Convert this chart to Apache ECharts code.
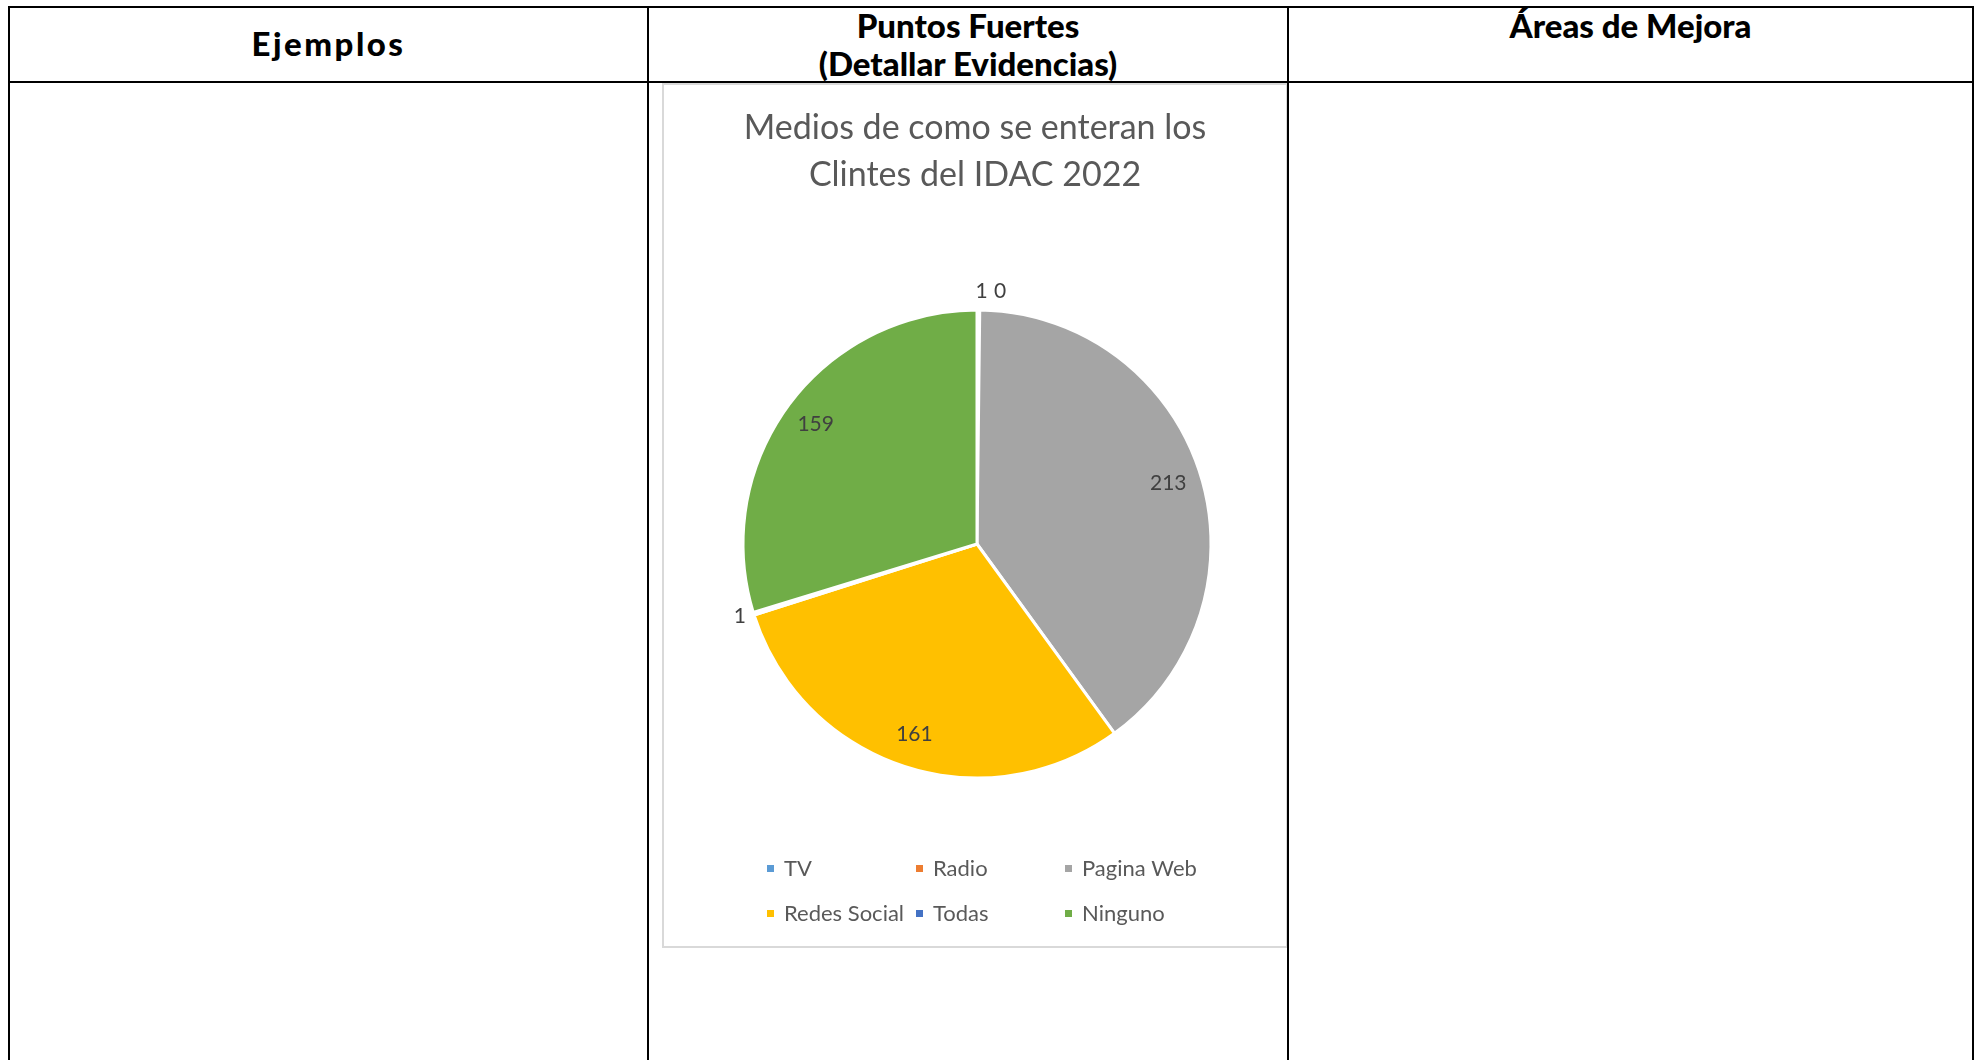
<!DOCTYPE html>
<html>
<head>
<meta charset="utf-8">
<script src="https://cdn.jsdelivr.net/npm/echarts@6/dist/echarts.min.js"></script>
<style>
  html, body { margin: 0; padding: 0; background: #fff; }
  body { width: 1977px; height: 1060px; position: relative; overflow: hidden; font-family: Lato, 'Noto Sans', sans-serif; }
  .ln { position: absolute; background: #000; }
  .head { position: absolute; font-weight: 900; font-size: 33px; color: #000; text-align: center; line-height: 38px; white-space: nowrap; }
  #frame { position: absolute; left: 662px; top: 83px; width: 626px; height: 865px; box-sizing: border-box; border: 2px solid #d9d9d9; background: #fff; }
  #chart { position: absolute; left: 662px; top: 82px; width: 626px; height: 866px; }
</style>
</head>
<body>
  <!-- tabla de fondo -->
  <div class="ln" style="left:8px;top:6px;width:1966px;height:2px"></div>
  <div class="ln" style="left:8px;top:81px;width:1966px;height:2px"></div>
  <div class="ln" style="left:8px;top:6px;width:2px;height:1054px"></div>
  <div class="ln" style="left:647px;top:6px;width:2px;height:1054px"></div>
  <div class="ln" style="left:1972px;top:6px;width:2px;height:1054px"></div>

  <div class="head" style="left:10px;width:637px;top:24px;letter-spacing:2.5px">Ejemplos</div>
  <div class="head" style="left:649px;width:638px;top:6px">Puntos Fuertes<br>(Detallar Evidencias)</div>
  <div class="head" style="left:1289px;width:683px;top:6px">Áreas de Mejora</div>

  <div id="frame"></div>
  <div id="chart"></div>
  <div class="ln" style="left:1287px;top:6px;width:2px;height:1054px"></div>

<script>
const categories = ['TV', 'Radio', 'Pagina Web', 'Redes Social', 'Todas', 'Ninguno'];
const values = [1, 0, 213, 161, 1, 159];
const colors = ['#5B9BD5', '#ED7D31', '#A5A5A5', '#FFC000', '#4472C4', '#70AD47'];
const titleLines = ['Medios de como se enteran los', 'Clintes del IDAC 2022'];

const fontFamily = 'Lato, "Noto Sans", sans-serif';
const pieCenter = [315, 462];
const pieRadius = 234;

// sectores muy chicos: etiqueta afuera, como hace Excel con bestFit
const outsideLabels = {
  'TV': { length: 19, length2: -3 },
  'Radio': { length: 19, length2: 14 },
  'Todas': { length: 8, length2: 0 }
};

const chart = echarts.init(document.getElementById('chart'));

const labelData = categories.map((name, i) => {
  const item = { name: name, value: values[i] };
  const out = outsideLabels[name];
  if (out) {
    item.label = { position: 'outside', distanceToLabelLine: 0 };
    item.labelLine = { show: false, length: out.length, length2: out.length2 };
  }
  return item;
});

chart.setOption({
  animation: false,
  color: colors,
  title: {
    text: titleLines.join('\n'),
    left: 'center',
    top: 23,
    padding: 0,
    textStyle: { fontFamily: fontFamily, fontSize: 34, fontWeight: 'normal', color: '#595959', lineHeight: 47 }
  },
  legend: {
    data: categories,
    left: 103,
    top: 768,
    width: 460,
    padding: 0,
    icon: 'rect',
    itemWidth: 9,
    itemHeight: 9,
    itemGap: 8,
    selectedMode: false,
    textStyle: { fontFamily: fontFamily, fontSize: 22, color: '#595959', width: 122, lineHeight: 37, padding: [0, 0, 0, 4] }
  },
  series: [
    {
      // el pastel
      type: 'pie',
      center: pieCenter,
      radius: pieRadius,
      startAngle: 90,
      silent: true,
      label: { show: false },
      labelLine: { show: false },
      itemStyle: { borderColor: '#fff', borderWidth: 3 },
      emphasis: { disabled: true },
      data: categories.map((name, i) => ({ name: name, value: values[i] }))
    },
    {
      // anillo transparente solo para ubicar las etiquetas a ~0.85 del radio
      type: 'pie',
      center: pieCenter,
      radius: [pieRadius * 0.69, pieRadius],
      startAngle: 90,
      minAngle: 0.01,
      silent: true,
      avoidLabelOverlap: false,
      itemStyle: { color: 'rgba(0,0,0,0)', borderWidth: 0 },
      label: { show: true, position: 'inside', formatter: '{c}', color: '#404040', fontFamily: fontFamily, fontSize: 21 },
      labelLine: { show: false },
      emphasis: { disabled: true },
      data: labelData
    }
  ]
});
</script>
</body>
</html>
